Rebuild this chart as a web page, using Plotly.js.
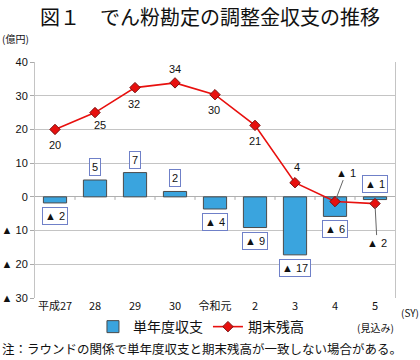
<!DOCTYPE html>
<html><head><meta charset="utf-8">
<script src="https://cdn.plot.ly/plotly-3.0.1.min.js"></script>
<style>body{margin:0}#c{width:420px;height:360px}</style>
</head><body><div id="c"></div>
<script>
const categories = ['平成27','28','29','30','令和元','2','3','4','5'];
const annualBalance = [-1.8, 5.0, 7.2, 1.6, -3.6, -9.1, -17.2, -5.8, -0.8];
const endBalance = [20.0, 25.0, 32.4, 33.8, 30.3, 21.2, 4.2, -1.4, -2.0];
const yTickVals = [40, 30, 20, 10, 0, -10, -20, -30];
const yTickText = ['40','30','20','10','0','▲ 10','▲ 20','▲ 30'];

const NUM = 'Liberation Sans, Arial, Noto Sans CJK JP, sans-serif';
const JP = 'Noto Sans CJK JP, sans-serif';
const fmt = v => { const r = Math.round(v); return r < 0 ? '▲ ' + Math.abs(r) : String(r); };

const traces = [
  {type:'bar', name:'単年度収支', x:categories, y:annualBalance, width:0.58,
   marker:{color:'#3AA4DE', line:{color:'#4a4a4a', width:1}}},
  {type:'scatter', mode:'lines+markers', name:'期末残高', x:categories, y:endBalance,
   line:{color:'#E8100E', width:1.6},
   marker:{symbol:'diamond', size:8, color:'#E8100E', line:{color:'#7a1010', width:1}}}
];

const ann = [];
// bar labels (boxed); x given as category index
annualBalance.forEach((v,i)=>{
  const above = v > 0 || i === annualBalance.length-1;
  ann.push({x:i, y: above ? Math.max(v,0) : v, xref:'x', yref:'y',
    text: fmt(v), showarrow:false, yanchor: above ? 'bottom':'top', yshift: above ? 4 : -4,
    font:{family:NUM, size:11, color:'#111'}, bgcolor:'#fff', bordercolor:'#6f80c8', borderwidth:1, borderpad:2});
});
// line labels
const lineShift = [-16, -12, -16, 14, -15, -16, 16];
const lineX = [0, 5, -1, 0, -1, 0, 2];
endBalance.forEach((v,i)=>{
  if (i < 7) {
    ann.push({x:i, y:v, xref:'x', yref:'y', text: fmt(v), showarrow:false,
      yshift: lineShift[i], xshift: lineX[i], font:{family:NUM, size:11, color:'#111'}});
  }
});
ann.push({x:7, y:endBalance[7], xref:'x', yref:'y', text: fmt(endBalance[7]), showarrow:true,
  arrowhead:0, arrowwidth:1, arrowcolor:'#666', ax:11, ay:-29, standoff:3,
  font:{family:NUM, size:11, color:'#111'}});
ann.push({x:8, y:endBalance[8], xref:'x', yref:'y', text: fmt(endBalance[8]), showarrow:true,
  arrowhead:0, arrowwidth:1, arrowcolor:'#666', ax:2, ay:39, standoff:3,
  font:{family:NUM, size:11, color:'#111'}});
// misc text
ann.push({xref:'paper', yref:'paper', x:-35/360, y:(298-38)/236, xanchor:'left', yanchor:'middle', text:'(億円)', showarrow:false, font:{family:JP, size:10, color:'#111'}});
ann.push({xref:'paper', yref:'paper', x:1.0, y:-0.06, xanchor:'left', yanchor:'middle', xshift:4, text:'(SY)', showarrow:false, font:{family:JP, size:10, color:'#111'}});
ann.push({xref:'x', yref:'paper', x:8, y:-0.123, yanchor:'middle', text:'(見込み)', showarrow:false, font:{family:JP, size:10, color:'#111'}});
ann.push({xref:'paper', yref:'paper', x:-35/360, y:-0.216, xanchor:'left', yanchor:'middle', text:'注：ラウンドの関係で単年度収支と期末残高が一致しない場合がある。', showarrow:false, font:{family:JP, size:12.5, color:'#111'}});

// tick marks on zero line at category boundaries
const shapes = categories.slice(0,-1).map((c,i)=>({type:'line', xref:'x', yref:'y', x0:i+0.5, x1:i+0.5, y0:0, y1:-0.9, line:{color:'#aaa', width:1}}));

const layout = {
  width:420, height:360, margin:{l:35, r:25, t:62, b:62},
  paper_bgcolor:'#fff', plot_bgcolor:'#fff',
  title:{text:'図１　でん粉勘定の調整金収支の推移', font:{family:JP, size:20, color:'#111'}, x:0.5, xanchor:'center', y:0.95, yanchor:'middle'},
  showlegend:true,
  legend:{orientation:'h', x:0.461, xanchor:'center', y:-0.123, yanchor:'middle', font:{family:JP, size:14, color:'#111'}, itemwidth:30, traceorder:'normal', bgcolor:'rgba(0,0,0,0)', tracegroupgap:0},
  xaxis:{type:'category', range:[-0.5, 8.5], showgrid:false, zeroline:false, showline:false, ticks:'',
    tickfont:{family:'Noto Sans CJK JP, sans-serif', size:11, color:'#111'}, fixedrange:true},
  yaxis:{range:[-30, 40], tickvals:yTickVals, ticktext:yTickText, showgrid:true, gridcolor:'#c4c4c4', gridwidth:1,
    zeroline:true, zerolinecolor:'#b0b0b0', zerolinewidth:1,
    showline:true, linecolor:'#c4c4c4', linewidth:1, mirror:true, ticks:'outside', ticklen:4, tickcolor:'#aaa',
    tickfont:{family:NUM, size:11, color:'#111'}, fixedrange:true},
  annotations:ann, shapes:shapes
};
Plotly.newPlot('c', traces, layout, {staticPlot:true, displayModeBar:false});
</script></body></html>
